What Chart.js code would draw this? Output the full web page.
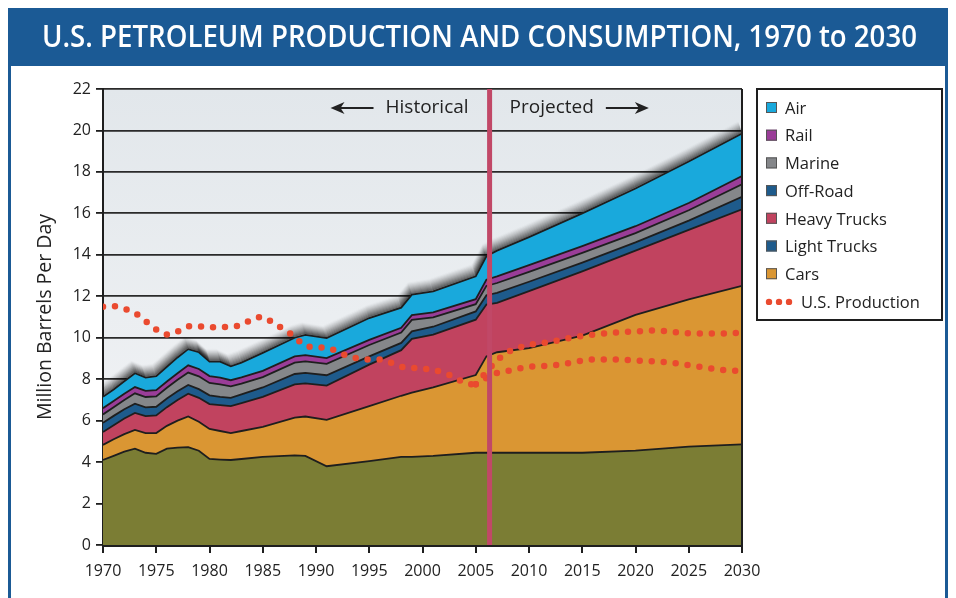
<!DOCTYPE html>
<html>
<head>
<meta charset="utf-8">
<script src="https://cdn.jsdelivr.net/npm/chart.js@4.4.1/dist/chart.umd.min.js"></script>
<style>
html, body { margin: 0; padding: 0; background: #fff; }
#ovoj { position: relative; width: 956px; height: 598px; }
</style>
</head>
<body>
<div id="ovoj"><canvas id="graf" width="956" height="598"></canvas></div>
<script>
const naslov = 'U.S. PETROLEUM PRODUCTION AND CONSUMPTION, 1970 to 2030';

// leta za plasti porabe
const leta = [1970, 1971, 1972, 1973, 1974, 1975, 1976, 1977, 1978, 1979,
    1980, 1981, 1982, 1983, 1985, 1988, 1989, 1991, 1995, 1998,
    1999, 2001, 2005, 2006, 2007, 2010, 2015, 2020, 2025, 2030];

// plasti od spodaj navzgor (milijon sodov na dan)
const cars = [4.1, 4.3, 4.5, 4.65, 4.45, 4.4, 4.65, 4.7, 4.72, 4.55,
    4.15, 4.12, 4.1, 4.15, 4.25, 4.32, 4.3, 3.8, 4.05, 4.25,
    4.25, 4.3, 4.45, 4.45, 4.45, 4.45, 4.45, 4.55, 4.75, 4.85];
const lightTrucks = [0.73, 0.8, 0.85, 0.9, 0.95, 1.0, 1.1, 1.3, 1.48, 1.4,
    1.45, 1.38, 1.3, 1.35, 1.45, 1.83, 1.9, 2.24, 2.65, 2.95,
    3.1, 3.3, 3.75, 4.65, 4.85, 5.05, 5.65, 6.55, 7.1, 7.65];
const heavyTrucks = [0.62, 0.68, 0.75, 0.82, 0.82, 0.85, 0.9, 1.0, 1.1, 1.15,
    1.2, 1.25, 1.3, 1.35, 1.45, 1.6, 1.6, 1.65, 2.0, 2.2,
    2.6, 2.55, 2.67, 2.5, 2.38, 2.75, 3.1, 3.1, 3.35, 3.7];
const offRoad = [0.45, 0.45, 0.45, 0.45, 0.42, 0.42, 0.42, 0.42, 0.42, 0.42,
    0.42, 0.4, 0.4, 0.42, 0.45, 0.5, 0.5, 0.5, 0.4, 0.35,
    0.36, 0.38, 0.4, 0.45, 0.48, 0.45, 0.42, 0.4, 0.45, 0.6];
const marine = [0.4, 0.42, 0.45, 0.5, 0.5, 0.5, 0.52, 0.55, 0.6, 0.62,
    0.6, 0.6, 0.55, 0.52, 0.5, 0.55, 0.56, 0.55, 0.55, 0.5,
    0.55, 0.45, 0.35, 0.45, 0.48, 0.48, 0.47, 0.45, 0.5, 0.6];
const rail = [0.3, 0.3, 0.3, 0.3, 0.3, 0.3, 0.3, 0.32, 0.35, 0.35,
    0.33, 0.32, 0.3, 0.3, 0.3, 0.3, 0.3, 0.28, 0.25, 0.23,
    0.23, 0.24, 0.24, 0.3, 0.32, 0.32, 0.33, 0.33, 0.35, 0.4];
const air = [0.55, 0.55, 0.6, 0.67, 0.64, 0.68, 0.71, 0.76, 0.78, 0.81,
    0.7, 0.78, 0.67, 0.71, 0.87, 0.9, 0.98, 0.96, 1.05, 0.97,
    0.99, 1.02, 1.1, 1.13, 1.24, 1.35, 1.58, 1.82, 2.0, 2.05];

// domaca proizvodnja
const leta_proizvodnje = [1970, 1971, 1972, 1973, 1974, 1975, 1976, 1977, 1978, 1979,
    1980, 1981, 1982, 1983, 1984, 1985, 1986, 1987, 1988, 1989,
    1990, 1991, 1992, 1993, 1994, 1995, 1996, 1997, 1998, 1999,
    2000, 2001, 2002, 2003, 2004, 2005];
const proizvodnja = [11.5, 11.52, 11.4, 11.2, 10.8, 10.4, 10.15, 10.3, 10.55, 10.55,
    10.5, 10.5, 10.55, 10.6, 10.9, 11.0, 10.7, 10.4, 10.05, 9.6,
    9.55, 9.5, 9.35, 9.1, 9.0, 8.95, 8.95, 8.8, 8.6, 8.55,
    8.5, 8.45, 8.3, 8.1, 7.8, 7.75];
const leta_napovedi = [2005, 2007, 2008, 2010, 2012, 2014, 2016, 2018, 2020, 2022, 2024, 2026, 2028, 2030];
const napoved_visoka = [7.75, 8.9, 9.3, 9.65, 9.8, 10.0, 10.15, 10.25, 10.3, 10.35, 10.25, 10.2, 10.2, 10.25];
const napoved_nizka = [7.75, 8.3, 8.4, 8.6, 8.65, 8.8, 8.95, 8.95, 8.9, 8.85, 8.75, 8.6, 8.45, 8.4];

const locnica = 2006.3;

const plasti = [cars, lightTrucks, heavyTrucks, offRoad, marine, rail, air];
const imena_plasti = ['Cars', 'Light Trucks', 'Heavy Trucks', 'Off-Road', 'Marine', 'Rail', 'Air'];
const barve_plasti = ['#7b7d34', '#da9633', '#c1435f', '#1e5b8c', '#85878a', '#9a3d98', '#19a9dc'];

const legenda_imena = ['Air', 'Rail', 'Marine', 'Off-Road', 'Heavy Trucks', 'Light Trucks', 'Cars'];
const legenda_barve = ['#19a9dc', '#9a3d98', '#85878a', '#1e5b8c', '#c1435f', '#1e5b8c', '#da9633'];

let modra = '#1b5a95';
let rdeca = '#ea4a2f';
let crna = '#1e1e1e';
let font = 'Open Sans';

const v_tocke = (xs, ys) => xs.map((x, i) => ({ x: x, y: ys[i] }));

const nabori = plasti.map((p, i) => ({
    label: imena_plasti[i],
    data: v_tocke(leta, p),
    backgroundColor: barve_plasti[i],
    borderColor: crna,
    borderWidth: 1.8,
    pointRadius: 0,
    tension: 0,
    fill: i === 0 ? 'origin' : '-1',
    stack: 'poraba',
    order: 1
}));

const pikcasta = (ime, xs, ys) => ({
    label: ime,
    data: v_tocke(xs, ys),
    borderColor: rdeca,
    borderWidth: 6.5,
    borderDash: [0, 12],
    borderCapStyle: 'round',
    pointRadius: 0,
    cubicInterpolationMode: 'monotone',
    fill: false,
    stack: ime,
    order: 0
});
nabori.push(pikcasta('U.S. Production', leta_proizvodnje, proizvodnja));
nabori.push(pikcasta('Production high', leta_napovedi, napoved_visoka));
nabori.push(pikcasta('Production low', leta_napovedi, napoved_nizka));

// mehka senca nad zgornjo plastjo: vec prosojnih crt, zamaknjenih navzgor
function narisi_senco(chart) {
    const ctx = chart.ctx;
    const a = chart.chartArea;
    const tocke = chart.getDatasetMeta(6).data;
    if (!tocke || !tocke.length) return;
    ctx.save();
    ctx.beginPath();
    ctx.rect(a.left, a.top, a.right - a.left, a.bottom - a.top);
    ctx.clip();
    ctx.lineJoin = 'round';
    ctx.lineWidth = 2;
    ctx.strokeStyle = '#000';
    for (let k = 1; k <= 12; k++) {
        ctx.globalAlpha = 0.45 * Math.pow(1 - k / 13, 1.5);
        ctx.beginPath();
        tocke.forEach((t, i) => {
            if (i === 0) ctx.moveTo(t.x - k * 0.3, t.y - k);
            else ctx.lineTo(t.x - k * 0.3, t.y - k);
        });
        ctx.stroke();
    }
    ctx.restore();
}

const ozadje = {
    id: 'ozadje',
    beforeDraw(chart) {
        const ctx = chart.ctx;
        const a = chart.chartArea;
        ctx.save();
        ctx.fillStyle = '#fff';
        ctx.fillRect(0, 0, chart.width, chart.height);
        ctx.strokeStyle = modra;
        ctx.lineWidth = 3;
        ctx.beginPath();
        ctx.moveTo(9.5, 60); ctx.lineTo(9.5, 598);
        ctx.moveTo(946.5, 60); ctx.lineTo(946.5, 598);
        ctx.stroke();
        ctx.fillStyle = modra;
        ctx.fillRect(8, 8, 940, 58);
        ctx.fillStyle = '#fff';
        ctx.font = '600 31px "' + font + '"';
        ctx.textBaseline = 'middle';
        const w = ctx.measureText(naslov).width;
        ctx.translate(42, 38);
        ctx.scale(875 / w, 1);
        ctx.fillText(naslov, 0, 0);
        ctx.restore();

        ctx.save();
        const g = ctx.createLinearGradient(0, a.top, 0, a.bottom);
        g.addColorStop(0, '#e2e7eb');
        g.addColorStop(1, '#f4f5f7');
        ctx.fillStyle = g;
        ctx.fillRect(a.left, a.top, a.right - a.left, a.bottom - a.top);
        ctx.restore();
    },
    beforeDatasetsDraw(chart) {
        narisi_senco(chart);
    },
    afterDatasetsDraw(chart) {
        const ctx = chart.ctx;
        const a = chart.chartArea;
        const xv = chart.scales.x.getPixelForValue(locnica);
        ctx.save();
        ctx.strokeStyle = '#c14867';
        ctx.lineWidth = 5;
        ctx.beginPath();
        ctx.moveTo(xv, a.top);
        ctx.lineTo(xv, a.bottom);
        ctx.stroke();

        ctx.strokeStyle = crna;
        ctx.lineWidth = 2;
        ctx.beginPath();
        ctx.moveTo(a.right, a.top);
        ctx.lineTo(a.right, a.bottom);
        ctx.stroke();

        const y = a.top + 19;
        ctx.fillStyle = '#222';
        ctx.font = '19px "' + font + '"';
        ctx.textBaseline = 'middle';
        ctx.textAlign = 'right';
        ctx.fillText('Historical', xv - 21, y);
        const wh = ctx.measureText('Historical').width;
        ctx.textAlign = 'left';
        ctx.fillText('Projected', xv + 20, y);
        const wp = ctx.measureText('Projected').width;

        const puscica = (x0, x1) => {
            const s = Math.sign(x1 - x0);
            ctx.lineWidth = 2;
            ctx.beginPath();
            ctx.moveTo(x0, y);
            ctx.lineTo(x1 - s * 8, y);
            ctx.stroke();
            ctx.beginPath();
            ctx.moveTo(x1, y);
            ctx.lineTo(x1 - s * 14, y - 6);
            ctx.lineTo(x1 - s * 10, y);
            ctx.lineTo(x1 - s * 14, y + 6);
            ctx.closePath();
            ctx.fill();
        };
        ctx.strokeStyle = '#222';
        puscica(xv - 21 - wh - 12, xv - 21 - wh - 55);
        puscica(xv + 20 + wp + 12, xv + 20 + wp + 55);
        ctx.restore();
    },
    afterDraw(chart) {
        const ctx = chart.ctx;
        ctx.save();
        ctx.strokeStyle = crna;
        ctx.lineWidth = 2;
        ctx.strokeRect(757, 89, 185, 231);
        ctx.font = '16.5px "' + font + '"';
        ctx.textBaseline = 'middle';
        ctx.fillStyle = '#222';
        legenda_imena.forEach((ime, i) => {
            const y = 108 + i * 27.7;
            ctx.fillStyle = legenda_barve[i];
            ctx.fillRect(766, y - 6, 11, 11);
            ctx.strokeStyle = '#555';
            ctx.lineWidth = 1;
            ctx.strokeRect(766.5, y - 5.5, 10, 10);
            ctx.fillStyle = '#222';
            ctx.fillText(ime, 785, y + 1);
        });
        const y = 108 + 7 * 27.7;
        ctx.fillStyle = rdeca;
        [769, 779, 789].forEach(x => {
            ctx.beginPath();
            ctx.arc(x, y, 3.2, 0, Math.PI * 2);
            ctx.fill();
        });
        ctx.fillStyle = '#222';
        ctx.fillText('U.S. Production', 801, y + 1);
        ctx.restore();
    }
};

const platno = document.getElementById('graf').getContext('2d');
const graf = new Chart(platno, {
    type: 'line',
    data: { datasets: nabori },
    options: {
        responsive: false,
        animation: false,
        layout: { padding: { left: 0, top: 89, right: 214, bottom: 8 } },
        plugins: {
            legend: { display: false },
            tooltip: { enabled: false }
        },
        scales: {
            x: {
                type: 'linear',
                min: 1970,
                max: 2030,
                afterFit: s => { s.height = 45; },
                ticks: {
                    stepSize: 5,
                    autoSkip: false,
                    maxRotation: 0,
                    padding: 9,
                    color: '#222',
                    font: { family: font, size: 16 },
                    callback: v => String(v)
                },
                grid: {
                    drawOnChartArea: false,
                    drawTicks: true,
                    tickLength: 8,
                    tickColor: crna,
                    lineWidth: 2
                },
                border: { display: true, color: crna, width: 3 }
            },
            y: {
                stacked: true,
                min: 0,
                max: 22,
                afterFit: s => { s.width = 103; },
                ticks: {
                    stepSize: 2,
                    padding: 5,
                    color: '#222',
                    font: { family: font, size: 16 }
                },
                grid: {
                    color: '#2a2a2a',
                    lineWidth: 1.8,
                    tickLength: 7,
                    tickColor: crna
                },
                border: { display: true, color: crna, width: 2 },
                title: {
                    display: true,
                    text: 'Million Barrels Per Day',
                    color: '#222',
                    font: { family: font, size: 19.5 },
                    padding: { top: 34, bottom: 0 }
                }
            }
        }
    },
    plugins: [ozadje]
});
</script>
</body>
</html>
